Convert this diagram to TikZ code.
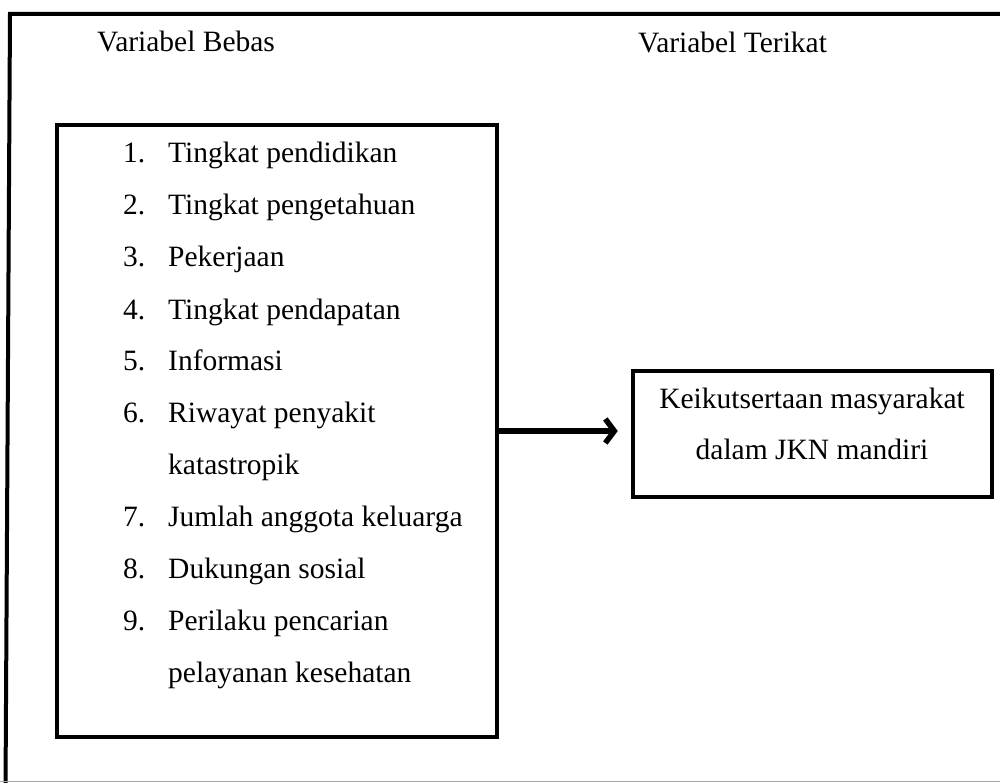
\documentclass[tikz,border=0pt]{standalone}
\usepackage{fontspec}
\setmainfont{Liberation Serif}
\usetikzlibrary{arrows.meta}
\tikzset{
  x=1pt, y=-1pt,
  txt/.style={inner sep=0pt, anchor=base west, font=\fontsize{29.5}{35}\selectfont},
  ctxt/.style={inner sep=0pt, anchor=base, font=\fontsize{29.5}{35}\selectfont},
  varbox/.style={draw=black, line width=4.5pt, rectangle, inner sep=0pt},
  frameline/.style={line width=4pt, draw=black},
  flow/.style={line width=5.5pt, -{Straight Barb[length=9pt, width=24pt, line width=5.5pt]}},
}
\begin{document}
\begin{tikzpicture}
\useasboundingbox (0,0) rectangle (1000,783);
\clip (0,0) rectangle (1000,783);
% outer frame (cut at the right side)
\draw[frameline] (5.5,790) -- (10,14) -- (1010,14);
\draw[gray!70, line width=1.5pt] (0,781.5) -- (1000,781.5);
% headers
\node[txt] (hbebas) at (97,52) {Variabel Bebas};
\node[txt] (hterikat) at (638,53) {Variabel Terikat};
% boxes
\node[varbox, minimum width=440pt, minimum height=612pt] (bebas) at (277,431) {};
\node[varbox, minimum width=359pt, minimum height=126pt] (terikat) at (812.5,434) {};
% list
\foreach \n/\t/\y in {1./Tingkat pendidikan/163, 2./Tingkat pengetahuan/215, 3./Pekerjaan/267, 4./Tingkat pendapatan/319, 5./Informasi/370, 6./Riwayat penyakit/422, 7./Jumlah anggota keluarga/526, 8./Dukungan sosial/578, 9./Perilaku pencarian/630}{
  \node[txt] (num\y) at (123,\y) {\n};
  \node[txt] (item\y) at (168,\y) {\t};
}
\node[txt] (item474) at (168,474) {katastropik};
\node[txt] (item682) at (168,682) {pelayanan kesehatan};
% dependent variable text
\node[ctxt] (dv1) at (812,408) {Keikutsertaan masyarakat};
\node[ctxt] (dv2) at (812,459) {dalam JKN mandiri};
% arrow
\draw[flow, shorten >=13pt] (bebas.east) -- (bebas.east -| terikat.west);
\end{tikzpicture}
\end{document}
